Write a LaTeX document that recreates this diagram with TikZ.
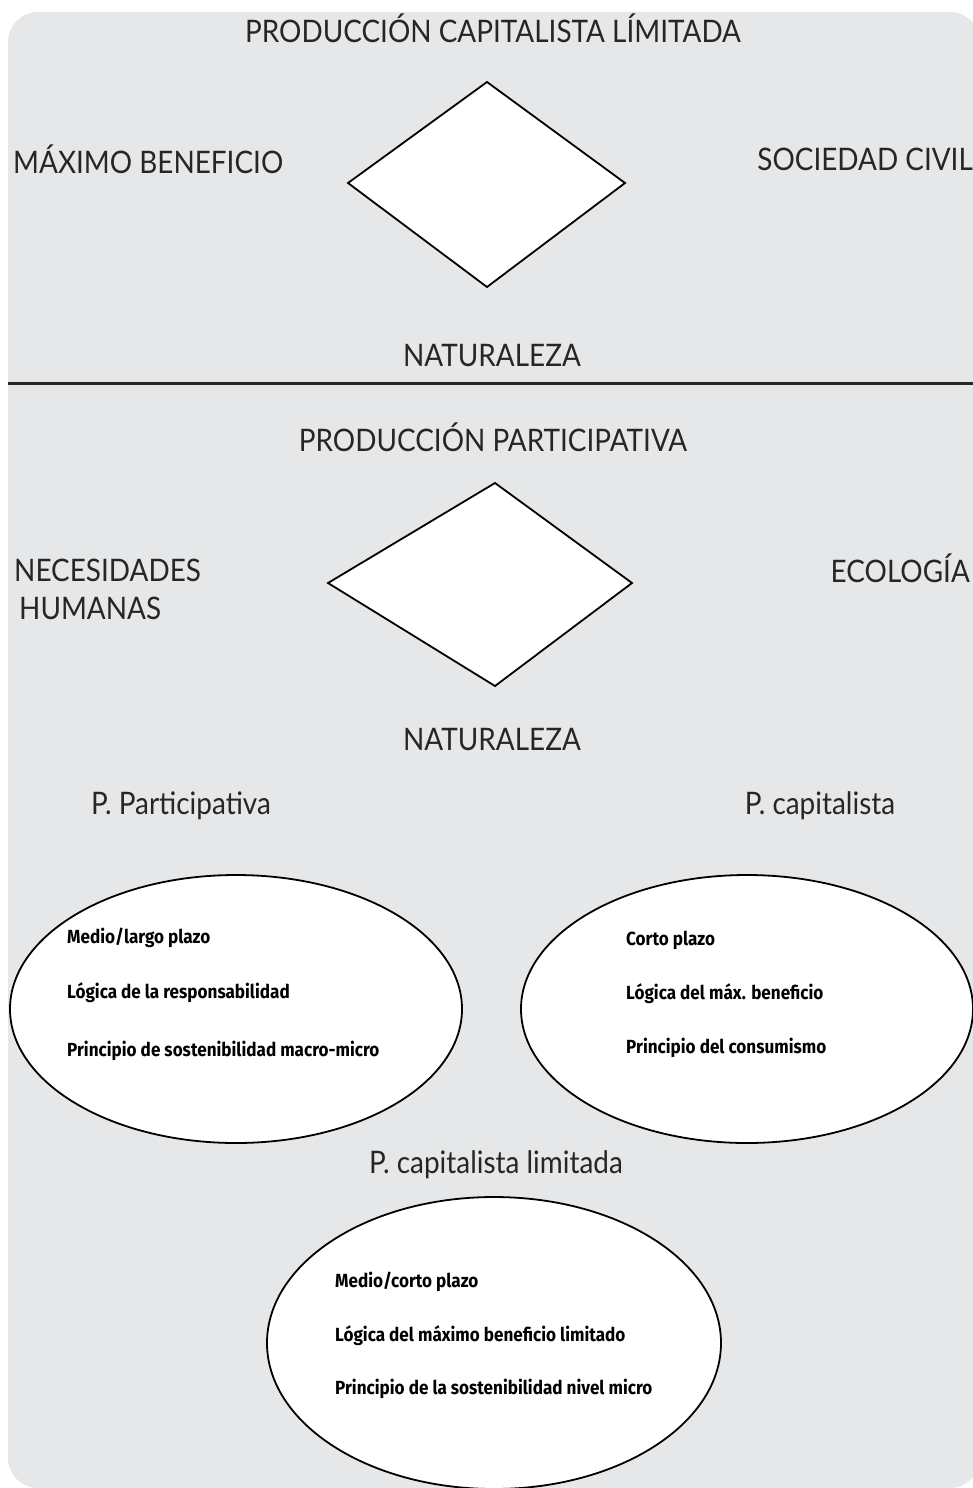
\documentclass[tikz,border=0pt]{standalone}
\usepackage{fontspec}
\usetikzlibrary{shapes.geometric}
\newfontfamily\capfont[FakeStretch=0.9]{Lato}
\newfontfamily\elfont[FakeStretch=0.9]{Fira Sans}
\definecolor{bgrey}{HTML}{E6E7E8}
\begin{document}
\begin{tikzpicture}[x=1pt,y=-1pt,
  lbl/.style={inner sep=0pt,font=\capfont\fontsize{31}{35}\selectfont,text=black!85},
  sub/.style={inner sep=0pt,font=\capfont\fontsize{31}{35}\selectfont,text=black!85},
  itm/.style={inner sep=0pt,anchor=west,font=\elfont\bfseries\fontsize{19}{22}\selectfont},
  dia/.style={draw=black,fill=white,line width=1.8pt,line join=miter},
  ell/.style={draw=black,fill=white,line width=1.8pt}]
\useasboundingbox (0,0) rectangle (973,1488);
\clip (0,0) rectangle (973,1488);
\fill[bgrey,rounded corners=30pt] (8,12) rectangle (980,1488);
% top section
\node[lbl] (t1) at (493,28) {PRODUCCIÓN CAPITALISTA LÍMITADA};
\node[lbl,anchor=west] (t2) at (13,159) {MÁXIMO BENEFICIO};
\node[lbl,anchor=east] (t3) at (973,159) {SOCIEDAD CIVIL};
\node[lbl] (t4) at (492,356) {NATURALEZA};
\draw[dia] (348,183) coordinate (d1l) -- (487,82) coordinate (d1t) -- (625,183) coordinate (d1r) -- (487,287) coordinate (d1b) -- cycle;
\coordinate (hl) at (8,383);
\coordinate (hr) at (973,383);
\draw[line width=3pt,black!85] (hl) -- (hr);
% second section
\node[lbl] (s1) at (493,437) {PRODUCCIÓN PARTICIPATIVA};
\node[lbl,anchor=west] (s2) at (14,570) {NECESIDADES};
\node[lbl,anchor=west] (s3) at (19,608) {HUMANAS};
\node[lbl,anchor=east] (s4) at (970,568) {ECOLOGÍA};
\node[lbl] (s5) at (492,740) {NATURALEZA};
\draw[dia] (328,583) coordinate (d2l) -- (495,483) coordinate (d2t) -- (632,583) coordinate (d2r) -- (495,686) coordinate (d2b) -- cycle;
% ellipses
\node[sub] (p1) at (181,806) {P. Participativa};
\node[sub] (p2) at (820,806) {P. capitalista};
\draw[ell] (236,1009) ellipse [x radius=226, y radius=134];
\draw[ell] (747,1009) ellipse [x radius=226, y radius=134];
\node[itm] (a1) at (67,938) {Medio/largo plazo};
\node[itm] (a2) at (67,993) {Lógica de la responsabilidad};
\node[itm] (a3) at (67,1051) {Principio de sostenibilidad macro-micro};
\node[itm] (b1) at (626,940) {Corto plazo};
\node[itm] (b2) at (626,994) {Lógica del máx. beneficio};
\node[itm] (b3) at (626,1048) {Principio del consumismo};
\node[sub] (p3) at (496,1165) {P. capitalista limitada};
\draw[ell] (494,1343) ellipse [x radius=227, y radius=146];
\node[itm] (c1) at (335,1282) {Medio/corto plazo};
\node[itm] (c2) at (335,1336) {Lógica del máximo beneficio limitado};
\node[itm] (c3) at (335,1389) {Principio de la sostenibilidad nivel micro};
\end{tikzpicture}
\end{document}
